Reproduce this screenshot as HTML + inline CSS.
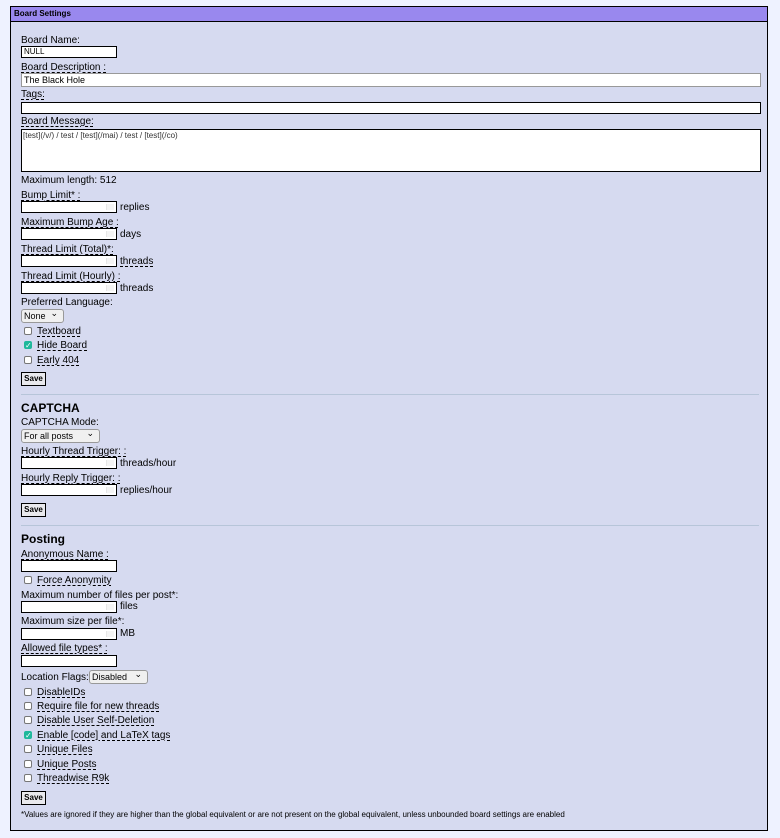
<!DOCTYPE html>
<html><head><meta charset="utf-8"><style>
*{box-sizing:border-box;margin:0;padding:0}
body{width:780px;height:838px;background:#eef2ff;font-family:"Liberation Sans",Arial,sans-serif;font-size:10px;color:#000;position:relative;overflow:hidden}
#p{position:absolute;left:10px;top:6px;width:758px;height:825px;background:#d6daf0;border:1px solid #000}
#h{position:absolute;left:0;top:0;width:756px;height:15px;background:#9988ee;border-bottom:1px solid #000;font-weight:bold;font-size:8px;line-height:14px;padding-left:3px}
.a{position:absolute;white-space:nowrap;line-height:12px}
.u{text-decoration:underline dashed;text-underline-offset:2px}
.i{position:absolute;background:#fff;border:1px solid #000;height:12px}
.n::after{content:"";position:absolute;right:2px;top:2px;width:7px;height:6px;border-left:1px solid #e6e6e6;background:#f4f4f4}
.s{position:absolute;background:#f0f0f0;border:1px solid #999;border-radius:3px;height:14px;font-size:9px;line-height:12px;padding-left:2px}
.s::after{content:"⌄";position:absolute;right:5px;top:-3px;font-size:9px}
.c{position:absolute;left:13px;width:8px;height:8px;border:1px solid #777;border-radius:2px;background:#fff}
.ck{background:#1fb89b;border-color:#1fb89b;color:#fff;font-size:8px;line-height:7px;text-align:center}
.b{position:absolute;left:10px;width:25px;height:14px;border:1px solid #000;background:#e9e9ed;font-weight:bold;font-size:8px;line-height:12px;text-align:center}
.hr{position:absolute;left:10px;width:738px;height:1px;background:#b7c5d9}
.hd{position:absolute;left:10px;font-weight:bold;font-size:12px}
</style></head><body>
<div id="p"><div id="h">Board Settings</div>
<div class="a" style="left:10px;top:28px">Board Name:</div>
<div class="i" style="left:10px;top:39px;width:96px;font-size:8px;line-height:10px;padding-left:2px">NULL</div>
<div class="a u" style="left:10px;top:55px">Board Description :</div>
<div class="i" style="left:10px;top:66px;width:740px;height:14px;border-color:#999;font-size:9px;line-height:12px;padding-left:2px">The Black Hole</div>
<div class="a u" style="left:10px;top:82px">Tags:</div>
<div class="i" style="left:10px;top:95px;width:740px"></div>
<div class="a u" style="left:10px;top:109px">Board Message:</div>
<div class="i" style="left:10px;top:122px;width:740px;height:43px;font-size:8px;line-height:11px;padding-left:1px;color:#333">[test](/v/) / test / [test](/mai) / test / [test](/co)</div>
<div class="a" style="left:10px;top:168px">Maximum length: 512</div>
<div class="a u" style="left:10px;top:183px">Bump Limit* :</div>
<div class="i n" style="left:10px;top:194px;width:96px"></div><div class="a" style="left:109px;top:195px">replies</div>
<div class="a u" style="left:10px;top:210px">Maximum Bump Age :</div>
<div class="i n" style="left:10px;top:221px;width:96px"></div><div class="a" style="left:109px;top:222px">days</div>
<div class="a u" style="left:10px;top:237px">Thread Limit (Total)*:</div>
<div class="i n" style="left:10px;top:248px;width:96px"></div><div class="a u" style="left:109px;top:249px">threads</div>
<div class="a u" style="left:10px;top:264px">Thread Limit (Hourly) :</div>
<div class="i n" style="left:10px;top:275px;width:96px"></div><div class="a" style="left:109px;top:276px">threads</div>
<div class="a" style="left:10px;top:290px">Preferred Language:</div>
<div class="s" style="left:10px;top:302px;width:43px">None</div>
<div class="c" style="top:320px"></div><div class="a u" style="left:26px;top:319px">Textboard</div>
<div class="c ck" style="top:334px">✓</div><div class="a u" style="left:26px;top:333px">Hide Board</div>
<div class="c" style="top:349px"></div><div class="a u" style="left:26px;top:348px">Early 404</div>
<div class="b" style="top:365px">Save</div>
<div class="hr" style="top:387px"></div>
<div class="hd" style="top:394px">CAPTCHA</div>
<div class="a" style="left:10px;top:410px">CAPTCHA Mode:</div>
<div class="s" style="left:10px;top:422px;width:79px">For all posts</div>
<div class="a u" style="left:10px;top:439px">Hourly Thread Trigger: :</div>
<div class="i n" style="left:10px;top:450px;width:96px"></div><div class="a" style="left:109px;top:451px">threads/hour</div>
<div class="a u" style="left:10px;top:466px">Hourly Reply Trigger: :</div>
<div class="i n" style="left:10px;top:477px;width:96px"></div><div class="a" style="left:109px;top:478px">replies/hour</div>
<div class="b" style="top:496px">Save</div>
<div class="hr" style="top:518px"></div>
<div class="hd" style="top:525px">Posting</div>
<div class="a u" style="left:10px;top:542px">Anonymous Name :</div>
<div class="i" style="left:10px;top:553px;width:96px"></div>
<div class="c" style="top:569px"></div><div class="a u" style="left:26px;top:568px">Force Anonymity</div>
<div class="a" style="left:10px;top:583px">Maximum number of files per post*:</div>
<div class="i n" style="left:10px;top:594px;width:96px"></div><div class="a" style="left:109px;top:594px">files</div>
<div class="a" style="left:10px;top:609px">Maximum size per file*:</div>
<div class="i n" style="left:10px;top:621px;width:96px"></div><div class="a" style="left:109px;top:621px">MB</div>
<div class="a u" style="left:10px;top:636px">Allowed file types* :</div>
<div class="i" style="left:10px;top:648px;width:96px"></div>
<div class="a" style="left:10px;top:665px">Location Flags:</div>
<div class="s" style="left:78px;top:663px;width:59px">Disabled</div>
<div class="c" style="top:681px"></div><div class="a u" style="left:26px;top:680px">DisableIDs</div>
<div class="c" style="top:695px"></div><div class="a u" style="left:26px;top:694px">Require file for new threads</div>
<div class="c" style="top:709px"></div><div class="a u" style="left:26px;top:708px">Disable User Self-Deletion</div>
<div class="c ck" style="top:724px">✓</div><div class="a u" style="left:26px;top:723px">Enable [code] and LaTeX tags</div>
<div class="c" style="top:738px"></div><div class="a u" style="left:26px;top:737px">Unique Files</div>
<div class="c" style="top:753px"></div><div class="a u" style="left:26px;top:752px">Unique Posts</div>
<div class="c" style="top:767px"></div><div class="a u" style="left:26px;top:766px">Threadwise R9k</div>
<div class="b" style="top:784px">Save</div>
<div class="a" style="left:10px;top:802px;font-size:8px">*Values are ignored if they are higher than the global equivalent or are not present on the global equivalent, unless unbounded board settings are enabled</div>
</div>
</body></html>
